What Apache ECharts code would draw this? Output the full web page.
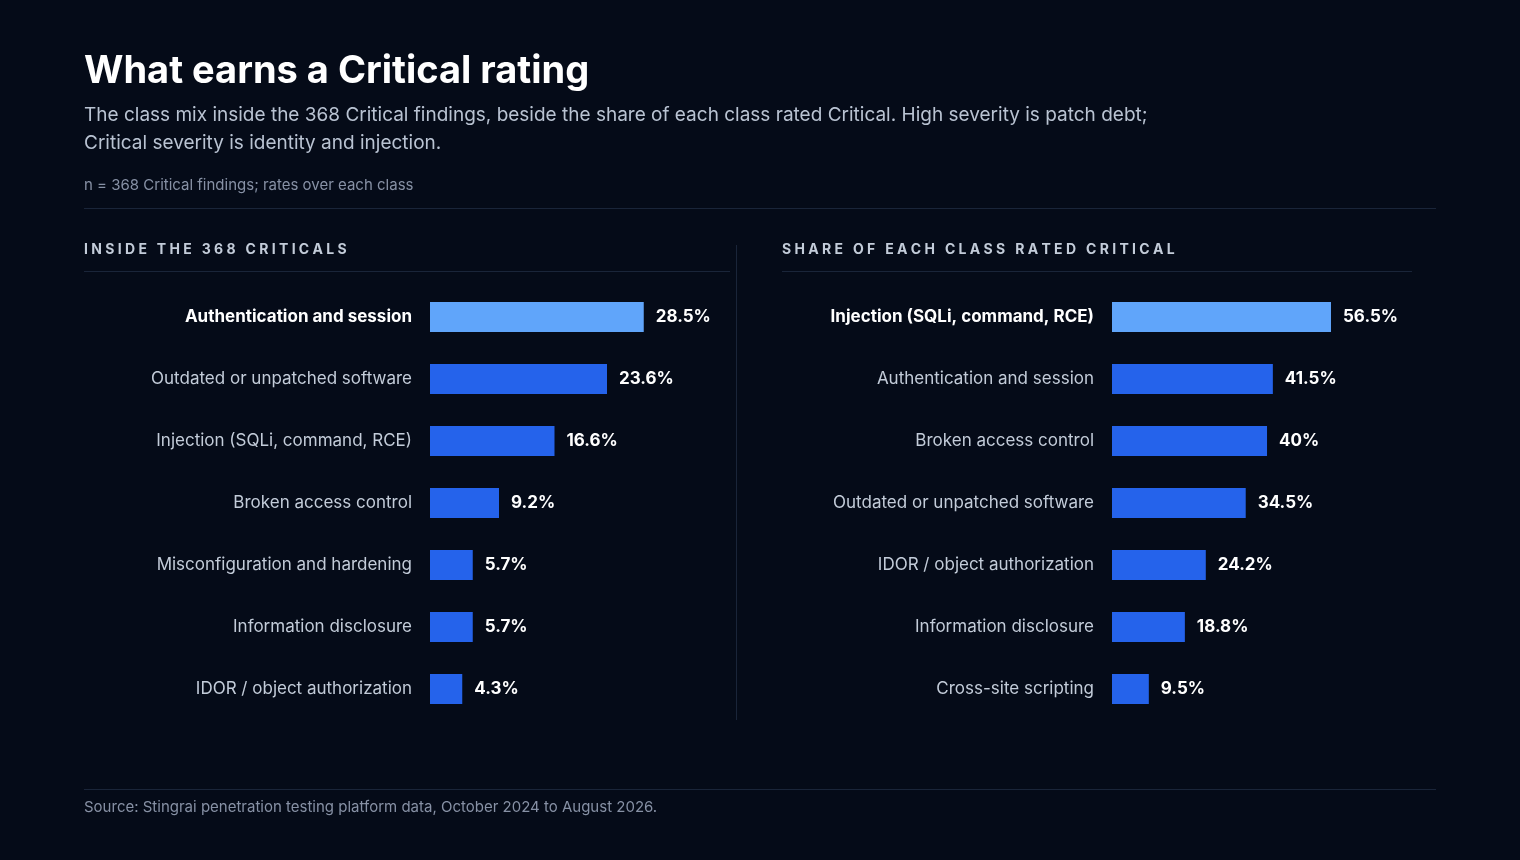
<!DOCTYPE html>
<html><head><meta charset="utf-8">
<script src="https://cdn.jsdelivr.net/npm/echarts@6/dist/echarts.min.js"></script>
<style>html,body{margin:0;background:#050b18;}#c{width:1520px;height:860px;}</style>
</head><body><div id="c"></div>
<script>
const leftCats = ['Authentication and session', 'Outdated or unpatched software', 'Injection (SQLi, command, RCE)', 'Broken access control', 'Misconfiguration and hardening', 'Information disclosure', 'IDOR / object authorization'];
const leftVals = [28.5, 23.6, 16.6, 9.2, 5.7, 5.7, 4.3];
const rightCats = ['Injection (SQLi, command, RCE)', 'Authentication and session', 'Broken access control', 'Outdated or unpatched software', 'IDOR / object authorization', 'Information disclosure', 'Cross-site scripting'];
const rightVals = [56.5, 41.5, 40, 34.5, 24.2, 18.8, 9.5];

const font = 'Inter, "Noto Sans", sans-serif';
let chart = echarts.init(document.getElementById('c'));

function yAxis(cats, idx) {
    return {
        type: 'category', gridIndex: idx, data: cats, inverse: true,
        axisLine: { show: false }, axisTick: { show: false },
        axisLabel: {
            margin: 18, fontFamily: font, fontSize: 17, color: '#c3ccd9',
            formatter: (v, i) => i === 0 ? '{b|' + v + '}' : v,
            rich: { b: { fontFamily: font, fontSize: 17, fontWeight: 'bold', color: '#ffffff' } }
        }
    };
}
function series(vals, idx) {
    return {
        type: 'bar', xAxisIndex: idx, yAxisIndex: idx, barWidth: 30,
        data: vals.map((v, i) => ({ value: v, itemStyle: { color: i === 0 ? '#60a5fa' : '#2563eb' } })),
        label: { show: true, position: 'right', distance: 12, formatter: p => p.value + '%', fontFamily: font, fontSize: 17, fontWeight: 'bold', color: '#ffffff' }
    };
}
const line = (x1, y1, x2, y2) => ({ type: 'line', shape: { x1, y1, x2, y2 }, style: { stroke: '#1a2539', lineWidth: 1 } });
const txt = (x, y, text, size, color, weight) => ({ type: 'text', left: x, top: y, style: { text, fontFamily: font, fontSize: size, fill: color, fontWeight: weight || 'normal' } });

chart.setOption({
    backgroundColor: '#050b18',
    grid: [
        { left: 430, top: 286, width: 300, height: 434 },
        { left: 1112, top: 286, width: 300, height: 434 }
    ],
    xAxis: [
        { type: 'value', gridIndex: 0, min: 0, max: 40, show: false },
        { type: 'value', gridIndex: 1, min: 0, max: 77.4, show: false }
    ],
    yAxis: [yAxis(leftCats, 0), yAxis(rightCats, 1)],
    series: [series(leftVals, 0), series(rightVals, 1)],
    graphic: [
        txt(84, 53, 'What earns a Critical rating', 38, '#ffffff', 'bold'),
        txt(84, 106, 'The class mix inside the 368 Critical findings, beside the share of each class rated Critical. High severity is patch debt;', 19, '#b9c3d2'),
        txt(84, 134, 'Critical severity is identity and injection.', 19, '#b9c3d2'),
        txt(84, 178, 'n = 368 Critical findings; rates over each class', 15, '#8791a5'),
        line(84, 208.5, 1436, 208.5),
        txt(84, 243, 'I N S I D E   T H E   3 6 8   C R I T I C A L S', 14, '#c3ccd9', 'bold'),
        txt(782, 243, 'S H A R E   O F   E A C H   C L A S S   R A T E D   C R I T I C A L', 14, '#c3ccd9', 'bold'),
        line(84, 271.5, 730, 271.5),
        line(782, 271.5, 1412, 271.5),
        line(736.5, 245, 736.5, 720),
        line(84, 789.5, 1436, 789.5),
        txt(84, 800, 'Source: Stingrai penetration testing platform data, October 2024 to August 2026.', 15, '#8791a5')
    ]
});
</script></body></html>
